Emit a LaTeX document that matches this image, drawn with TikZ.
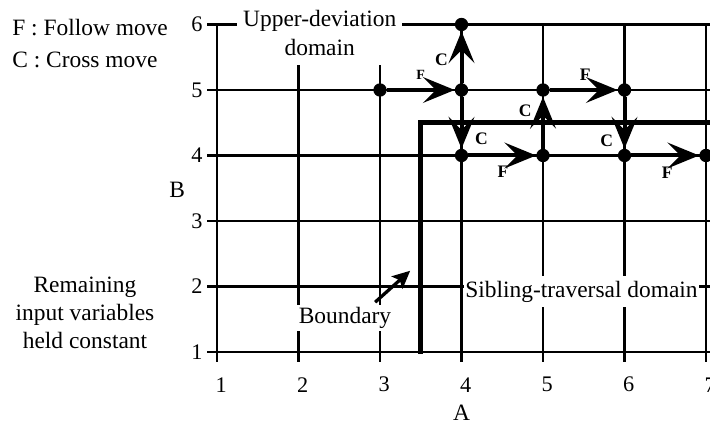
\documentclass[tikz,border=0pt]{standalone}
\usepackage{fontspec}
\setmainfont{Liberation Serif}
\usetikzlibrary{arrows.meta,positioning}
\tikzset{
    % grid lines of the A-B plane
    gridline/.style={line width=2.4pt},
    % thick line between the two domains
    boundary/.style={line width=4.4pt},
    % test points
    dot/.style={circle, fill=black, inner sep=0pt, minimum size=0.4cm},
    % follow and cross moves
    move/.style={-{Stealth[length=27pt, width=22pt, inset=11pt]}, line width=3.4pt},
    % F / C letters beside the moves
    movelabel/.style={font=\fontsize{15}{17}\selectfont\bfseries, inner sep=1pt},
    % small pointer to the boundary
    pointer/.style={-{Stealth[length=15pt, width=14pt, inset=3pt]}, line width=2.8pt},
    % text labels
    bigtext/.style={font=\fontsize{20}{24}\selectfont, align=center},
    ticklabel/.style={font=\fontsize{19}{22}\selectfont},
}

\begin{document}
\begin{tikzpicture}[x=2.445cm, y=1.965cm]
    \clip (-1.663,-0.145) rectangle (7.049,6.374);

    % grid
    \foreach \y in {1,...,6}
        \draw[gridline] (0.88,\y) -- (7.2,\y);
    \draw[gridline] (1,0.85) -- (1,6);
    \foreach \x in {2,3}
        \draw[gridline] (\x,0.85) -- (\x,5.38);
    \foreach \x in {4,...,7}
        \draw[gridline] (\x,0.85) -- (\x,6);

    % axis numbers and names
    \foreach \y in {1,...,6}
        \node[ticklabel] (btick\y) at (0.755,\y) {\y};
    \foreach \x in {1,...,7}
        \node[ticklabel] (atick\x) at (\x+0.05,0.5) {\x};
    \node[bigtext] (aname) at (4,0.07) {A};
    \node[bigtext] (bname) at (0.51,3.47) {B};

    % legend and notes
    \node[bigtext, anchor=west, inner xsep=0pt] (legendf) at (-1.515,5.96) {F : Follow move};
    \node[bigtext, anchor=west, inner xsep=0pt] (legendc) at (-1.515,5.46) {C : Cross move};
    \node[bigtext, fill=white, inner xsep=5pt, inner ysep=3pt] (upper) at (2.26,5.87) {Upper-deviation\\domain};
    \node[bigtext] (remain) at (-0.62,1.595) {Remaining\\input variables\\held constant};

    % boundary
    \draw[boundary] (3.5,0.97) -- (3.5,4.5) -- (7.2,4.5);
    \node[bigtext, fill=white, inner sep=2pt] (bndlabel) at (2.57,1.52) {Boundary};
    \coordinate (bndtail) at (2.94,1.76);
    \coordinate (bndtip) at (3.37,2.24);
    \draw[pointer] (bndtail) -- (bndtip);
    \node[bigtext, fill=white, inner xsep=1pt, inner ysep=4pt, anchor=west] (sibling) at (4.03,1.92) {Sibling-traversal domain};

    % points
    \node[dot] (p35) at (3,5) {};
    \node[dot] (p45) at (4,5) {};
    \node[dot] (p46) at (4,6) {};
    \node[dot] (p44) at (4,4) {};
    \node[dot] (p54) at (5,4) {};
    \node[dot] (p55) at (5,5) {};
    \node[dot] (p65) at (6,5) {};
    \node[dot] (p64) at (6,4) {};
    \node[dot] (p74) at (7,4) {};

    % moves
    \draw[move] (p35) -- node[movelabel, pos=0.5, above=6pt, font=\fontsize{12}{14}\selectfont\bfseries] {F} (p45);
    \draw[move] (p45) -- node[movelabel, pos=0.45, left=9pt] {C} (p46);
    \draw[move] (p45) -- node[movelabel, pos=0.81, right=9pt] {C} (p44);
    \draw[move] (p44) -- node[movelabel, pos=0.51, below=6pt] {F} (p54);
    \draw[move] (p54) -- node[movelabel, pos=0.73, left=7pt] {C} (p55);
    \draw[move] (p55) -- node[movelabel, pos=0.52, above=5pt] {F} (p65);
    \draw[move] (p65) -- node[movelabel, pos=0.84, left=7pt] {C} (p64);
    \draw[move] (p64) -- node[movelabel, pos=0.53, below=7pt] {F} (p74);
\end{tikzpicture}
\end{document}
